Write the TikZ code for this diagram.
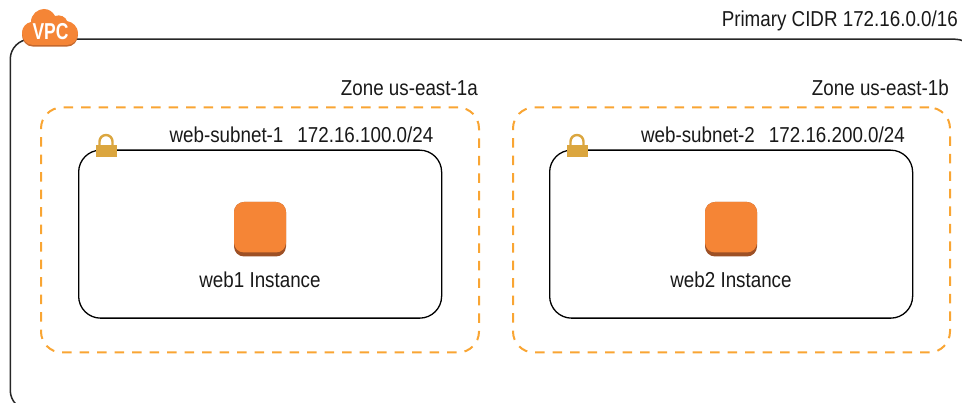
\documentclass[tikz,border=0pt]{standalone}
\usepackage{fontspec}
\setmainfont{Liberation Sans}[FakeStretch=0.87]
\newfontfamily\vpcfont{Liberation Sans}[FakeStretch=0.76]
\definecolor{awsorange}{HTML}{F58536}
\definecolor{awsdark}{HTML}{9D5025}
\definecolor{zonedash}{HTML}{F9A533}
\definecolor{lockgold}{HTML}{DBA63F}
\tikzset{
  x=1pt,y=-1pt,
  vpcbox/.style={draw=black!85,line width=1.5pt,rounded corners=20pt},
  zonebox/.style={draw=zonedash,line width=2pt,rounded corners=21pt,dash pattern=on 9.5pt off 8pt},
  subnetbox/.style={draw=black,line width=1.3pt,rounded corners=22pt},
  lab/.style={inner sep=0pt,font=\fontsize{21.6}{24}\selectfont,text=black!90,anchor=base east},
  inst/.style={inner sep=0pt,font=\fontsize{21.6}{24}\selectfont,text=black!90,anchor=base},
}
\newcommand{\chipicon}[1]{%
  \fill[awsdark,rounded corners=10pt] (#1-26,202) rectangle (#1+26,256.5);
  \fill[awsorange,rounded corners=10pt] (#1-26,202) rectangle (#1+26,252.5);
}
\newcommand{\lockicon}[1]{%
  \draw[lockgold,line width=2.4pt] (#1-6.5,146) -- (#1-6.5,141.5) arc[start angle=180,end angle=360,radius=6.5] -- (#1+6.5,146);
  \fill[lockgold] (#1-10.5,145.5) rectangle (#1+10.5,157);
}
\begin{document}
\begin{tikzpicture}
\useasboundingbox (0,0) rectangle (962,403);
\begin{scope}
\clip (0,0) rectangle (962,403);
\node[vpcbox,minimum width=965pt,minimum height=371pt,anchor=north west,inner sep=0pt] (vpc) at (9.5,38.5) {};
\end{scope}
\node[zonebox,minimum width=438pt,minimum height=245pt,anchor=north west,inner sep=0pt] (zonea) at (40,106.5) {};
\node[zonebox,minimum width=437pt,minimum height=245pt,anchor=north west,inner sep=0pt] (zoneb) at (512,106.5) {};
\node[subnetbox,minimum width=363pt,minimum height=168pt,anchor=north west,inner sep=0pt] (subneta) at (78,149.5) {};
\node[subnetbox,minimum width=363pt,minimum height=168pt,anchor=north west,inner sep=0pt] (subnetb) at (549,149.5) {};
\node[lab] (primary) at (958,27) {Primary CIDR 172.16.0.0/16};
\node[lab] (zalabel) at (478,96) {Zone us-east-1a};
\node[lab] (zblabel) at (949,96) {Zone us-east-1b};
\node[lab] (salabel) at (433.5,143) {web-subnet-1\hspace{14pt}172.16.100.0/24};
\node[lab] (sblabel) at (905,143) {web-subnet-2\hspace{14pt}172.16.200.0/24};
\chipicon{260}
\chipicon{731}
\node[inst] (weba) at (260,287.5) {web1 Instance};
\node[inst] (webb) at (731,287.5) {web2 Instance};
\lockicon{106}
\lockicon{577}
% VPC cloud
\begin{scope}[yshift=-1.6pt]
\fill[awsdark!55!awsorange]
  (33,45) .. controls (26,45) and (22,39) .. (22,33)
  .. controls (22,27) and (26,23) .. (31,22)
  .. controls (31,14) and (38,9) .. (44,9)
  .. controls (49,9) and (53,12) .. (55,16)
  .. controls (60,14) and (66,17) .. (67,21)
  .. controls (73,22) and (78,27) .. (78,33)
  .. controls (78,40) and (73,45) .. (67,45) -- cycle;
\end{scope}
\fill[awsorange]
  (33,45) .. controls (26,45) and (22,39) .. (22,33)
  .. controls (22,27) and (26,23) .. (31,22)
  .. controls (31,14) and (38,9) .. (44,9)
  .. controls (49,9) and (53,12) .. (55,16)
  .. controls (60,14) and (66,17) .. (67,21)
  .. controls (73,22) and (78,27) .. (78,33)
  .. controls (78,40) and (73,45) .. (67,45) -- cycle;
\node[inner sep=0pt,anchor=base,text=white,font=\vpcfont\bfseries\fontsize{23}{24}\selectfont] (vpclabel) at (50.5,39.5) {VPC};
\end{tikzpicture}
\end{document}
